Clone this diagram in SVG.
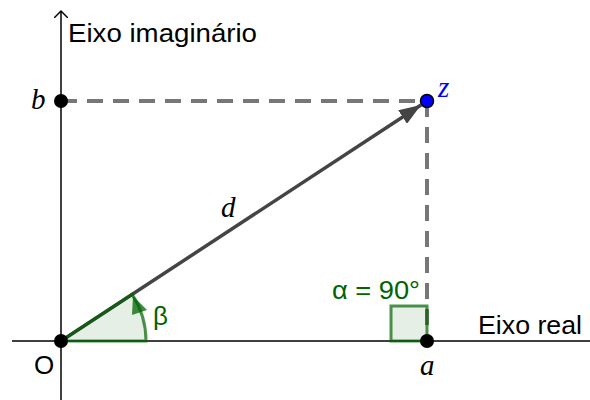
<svg xmlns="http://www.w3.org/2000/svg" width="590" height="400" viewBox="0 0 590 400">
<style>
.axis{stroke:#000;stroke-width:1.5;fill:none}
.dash{stroke:#777;stroke-width:4;stroke-dasharray:16 10;fill:none}
.pt{fill:#000}
.sans{font-family:"Liberation Sans",Arial,sans-serif;font-size:26px;fill:#000}
.math{font-family:"Liberation Serif","Times New Roman",serif;font-style:italic;font-size:29px;fill:#000}
.green{fill:#006400}
</style>
<defs>
<marker id="vh" markerWidth="24" markerHeight="16" refX="22" refY="8" orient="auto" markerUnits="userSpaceOnUse">
<path d="M0,0 L22,8 L0,16 Z" fill="#444"/>
</marker>
<marker id="ah" markerWidth="14" markerHeight="14" refX="7" refY="7" orient="auto" markerUnits="userSpaceOnUse">
<path d="M0,0 L7,7 L0,14" fill="none" stroke="#000" stroke-width="1.5"/>
</marker>
</defs>
<g id="connectors">
<line id="real-axis" class="axis" x1="12" y1="341" x2="590" y2="341"/>
<line id="imag-axis" class="axis" x1="61" y1="400" x2="61" y2="11" marker-end="url(#ah)"/>
<line id="dash-b-z" class="dash" x1="61" y1="101" x2="427" y2="101"/>
<line id="dash-z-a" class="dash" x1="427" y1="101" x2="427" y2="341"/>
<line id="vector-d" x1="61" y1="341" x2="421" y2="105" stroke="#444" stroke-width="3.5" marker-end="url(#vh)"/>
</g>
<g id="angle-beta">
<path d="M61,341 L146,341 A85,85 0 0 0 132.1,294.4 Z" fill="#006400" fill-opacity="0.1" stroke="#006400" stroke-opacity="0.7" stroke-width="3"/>
<path d="M133,296 L132,315 L147,310 Z" fill="#006400" fill-opacity="0.75"/>
<text class="sans green" x="153" y="325" font-size="24">β</text>
</g>
<g id="angle-alpha">
<rect x="391" y="306" width="36" height="35" fill="#006400" fill-opacity="0.1" stroke="#006400" stroke-opacity="0.7" stroke-width="3"/>
<text class="sans green" x="332" y="299" font-size="24" textLength="88" lengthAdjust="spacingAndGlyphs">α = 90°</text>
</g>
<g id="node-O">
<circle class="pt" cx="61" cy="341" r="7"/>
<text class="sans" x="34" y="374" font-size="24">O</text>
</g>
<g id="node-b">
<circle class="pt" cx="61" cy="101" r="7"/>
<text class="math" x="31" y="109">b</text>
</g>
<g id="node-a">
<circle class="pt" cx="427" cy="341" r="7"/>
<text class="math" x="420" y="375">a</text>
</g>
<g id="node-z">
<circle cx="427" cy="101" r="6.5" fill="#0000ff" stroke="#000" stroke-width="1.5"/>
<text class="math" x="438" y="97" style="fill:#0000ff">z</text>
</g>
<g id="labels">
<text class="math" x="221" y="217">d</text>
<text class="sans" x="68" y="42" textLength="189" lengthAdjust="spacingAndGlyphs">Eixo imaginário</text>
<text class="sans" x="478" y="334" textLength="104" lengthAdjust="spacingAndGlyphs">Eixo real</text>
</g>
</svg>
